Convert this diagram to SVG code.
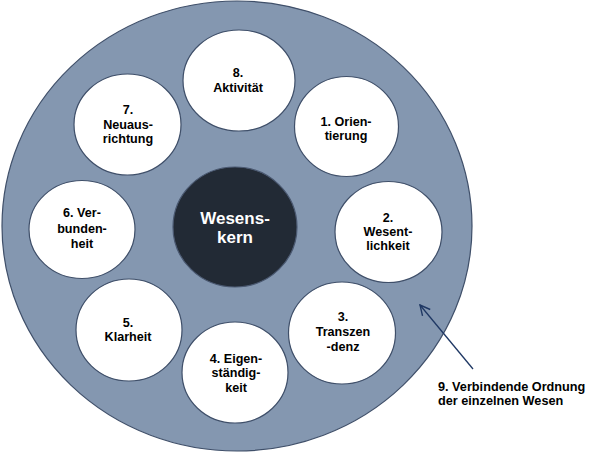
<svg xmlns="http://www.w3.org/2000/svg" width="599" height="454" viewBox="0 0 599 454">
<defs>
<style>
.ring{fill:#8497b0;stroke:#3f4f69;stroke-width:1.2}
.node{fill:#ffffff;stroke:#3f4f69;stroke-width:1.2}
.core{fill:#222a35;stroke:#4a5870;stroke-width:1.2}
.t{font-family:"Liberation Sans",Arial,sans-serif;font-weight:bold;font-size:12.6px;fill:#000000;text-anchor:middle}
.tc{font-family:"Liberation Sans",Arial,sans-serif;font-weight:bold;font-size:17px;fill:#ffffff;text-anchor:middle}
.tl{font-family:"Liberation Sans",Arial,sans-serif;font-weight:bold;font-size:12.7px;fill:#000000}
.conn{stroke:#1f3864;stroke-width:1.3;fill:none}
</style>
<marker id="open" viewBox="0 0 12 12" refX="11" refY="6" markerWidth="12" markerHeight="12" markerUnits="userSpaceOnUse" orient="auto">
<path d="M1,1 L11,6 L1,11" fill="none" stroke="#1f3864" stroke-width="1.4"/>
</marker>
</defs>
<g id="outer">
<ellipse class="ring" cx="237" cy="226" rx="235" ry="225"/>
</g>
<g id="core">
<ellipse class="core" cx="235" cy="227" rx="62" ry="60"/>
<text class="tc" x="235" y="224">Wesens-</text>
<text class="tc" x="235" y="243">kern</text>
</g>
<g id="n8">
<ellipse class="node" cx="239" cy="80.5" rx="56" ry="50.5"/>
<text class="t" x="238" y="77">8.</text>
<text class="t" x="238" y="92">Aktivität</text>
</g>
<g id="n7">
<ellipse class="node" cx="127.5" cy="124.5" rx="53.5" ry="50.5"/>
<text class="t" x="128" y="114">7.</text>
<text class="t" x="128" y="129">Neuaus-</text>
<text class="t" x="128" y="143">richtung</text>
</g>
<g id="n1">
<ellipse class="node" cx="346.5" cy="126.5" rx="52" ry="50"/>
<text class="t" x="346" y="126">1. Orien-</text>
<text class="t" x="346" y="140">tierung</text>
</g>
<g id="n2">
<ellipse class="node" cx="388.5" cy="232" rx="53.5" ry="50.5"/>
<text class="t" x="388" y="222">2.</text>
<text class="t" x="388" y="236">Wesent-</text>
<text class="t" x="388" y="250">lichkeit</text>
</g>
<g id="n3">
<ellipse class="node" cx="342" cy="333" rx="53.5" ry="51"/>
<text class="t" x="343" y="321">3.</text>
<text class="t" x="343" y="336">Transzen</text>
<text class="t" x="343" y="351">-denz</text>
</g>
<g id="n4">
<ellipse class="node" cx="235" cy="372.5" rx="53" ry="50.5"/>
<text class="t" x="236" y="363">4. Eigen-</text>
<text class="t" x="236" y="377">ständig-</text>
<text class="t" x="236" y="392">keit</text>
</g>
<g id="n5">
<ellipse class="node" cx="129" cy="330" rx="53" ry="51"/>
<text class="t" x="128" y="327">5.</text>
<text class="t" x="128" y="341">Klarheit</text>
</g>
<g id="n6">
<ellipse class="node" cx="82" cy="229.5" rx="53" ry="49"/>
<text class="t" x="82" y="217">6. Ver-</text>
<text class="t" x="82" y="233">bunden-</text>
<text class="t" x="82" y="248">heit</text>
</g>
<g id="connectors">
<line class="conn" x1="473" y1="369" x2="420" y2="305" marker-end="url(#open)"/>
</g>
<g id="label9">
<text class="tl" x="438" y="391">9. Verbindende Ordnung</text>
<text class="tl" x="438" y="405">der einzelnen Wesen</text>
</g>
</svg>
